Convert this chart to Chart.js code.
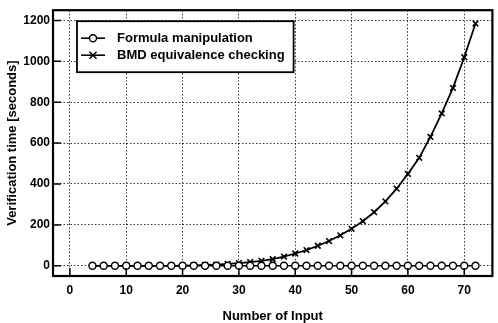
<!DOCTYPE html>
<html>
<head>
<meta charset="utf-8">
<script src="https://cdn.jsdelivr.net/npm/chart.js@4/dist/chart.umd.min.js"></script>
<style>
html,body{margin:0;padding:0;background:#fff;}
#c{display:block;}
</style>
</head>
<body>
<canvas id="c" width="498" height="323"></canvas>
<script>
// ---- data ----
const inputs = [4,6,8,10,12,14,16,18,20,22,24,26,28,30,32,34,36,38,40,42,44,46,48,50,52,54,56,58,60,62,64,66,68,70,72];
const formulaTime = [0,0,0,0,0,0,0,0,0,0,0,0,0,0,0,0,0,0,0,0,0,0,0,0,0,0,0,0,0,0,0,0,0,0,0];
const bmdTime = [0,0,0,0,0,0,0,0,1,2,4,6,9,13,18,24,32,45,60,77,98,121,149,181,218,262,315,377,449,528,630,745,870,1020,1185];
const seriesNames = ["Formula manipulation","BMD equivalence checking"];
const xTickValues = [0,10,20,30,40,50,60,70];
const yTickValues = [0,200,400,600,800,1000,1200];
const xTitle = "Number of Input";
const yTitle = "Verification time [seconds]";

const FONT = "'Liberation Sans', Arial, Helvetica, sans-serif";

const framePlugin = {
  id: 'frame',
  afterDatasetsDraw(chart) {
    const {ctx, chartArea: a, scales} = chart;
    ctx.save();
    ctx.strokeStyle = '#000';
    // inward ticks
    ctx.lineWidth = 1.5;
    ctx.beginPath();
    const tl = 8;
    scales.x.ticks.forEach(t => {
      const px = scales.x.getPixelForValue(t.value);
      ctx.moveTo(px, a.bottom); ctx.lineTo(px, a.bottom - tl);
    });
    scales.y.ticks.forEach(t => {
      const py = scales.y.getPixelForValue(t.value);
      ctx.moveTo(a.left, py); ctx.lineTo(a.left + tl, py);
    });
    ctx.stroke();
    // frame
    ctx.lineWidth = 2.2;
    ctx.strokeRect(a.left, a.top, a.right - a.left, a.bottom - a.top);
    ctx.restore();
  },
  afterDraw(chart) {
    const {ctx, chartArea: a} = chart;
    ctx.save();
    ctx.font = "bold 13px " + FONT;
    const ds = chart.data.datasets;
    let maxW = 0;
    ds.forEach(d => { maxW = Math.max(maxW, ctx.measureText(d.label).width); });
    const left = a.left + 24, top = a.top + 11;
    const w = 40 + maxW + 9, h = 51;
    ctx.fillStyle = '#fff';
    ctx.fillRect(left, top, w, h);
    ctx.strokeStyle = '#000';
    ctx.lineWidth = 1.8;
    ctx.strokeRect(left, top, w, h);
    ds.forEach((d, i) => {
      const y = top + 17 + i * 17;
      ctx.lineWidth = 1.6;
      ctx.beginPath();
      ctx.moveTo(left + 4, y); ctx.lineTo(left + 28, y);
      ctx.stroke();
      const mx = left + 16;
      if (d.pointStyle === 'circle') {
        ctx.beginPath();
        ctx.arc(mx, y, 3.5, 0, Math.PI * 2);
        ctx.fillStyle = '#fff';
        ctx.fill();
        ctx.lineWidth = 1.4;
        ctx.stroke();
      } else {
        const r = 3.5;
        ctx.lineWidth = 1.6;
        ctx.beginPath();
        ctx.moveTo(mx - r, y - r); ctx.lineTo(mx + r, y + r);
        ctx.moveTo(mx + r, y - r); ctx.lineTo(mx - r, y + r);
        ctx.stroke();
      }
      ctx.fillStyle = '#000';
      ctx.textBaseline = 'middle';
      ctx.textAlign = 'left';
      ctx.fillText(d.label, left + 40, y);
    });
    ctx.restore();
  }
};

new Chart(document.getElementById('c'), {
  type: 'line',
  data: {
    datasets: [
      {
        label: seriesNames[0],
        data: inputs.map((x, i) => ({x: x, y: formulaTime[i]})),
        borderColor: '#000',
        borderWidth: 1.6,
        pointStyle: 'circle',
        pointRadius: 3.5,
        pointBorderWidth: 1.4,
        pointBackgroundColor: '#fff',
        pointBorderColor: '#000',
        tension: 0,
        fill: false
      },
      {
        label: seriesNames[1],
        data: inputs.map((x, i) => ({x: x, y: bmdTime[i]})),
        borderColor: '#000',
        borderWidth: 1.8,
        pointStyle: 'crossRot',
        pointRadius: 4,
        pointBorderWidth: 1.6,
        pointBorderColor: '#000',
        pointBackgroundColor: '#000',
        tension: 0,
        fill: false
      }
    ]
  },
  options: {
    responsive: false,
    animation: false,
    events: [],
    layout: {padding: {top: 6, right: 1, left: 0, bottom: 0}},
    plugins: {legend: {display: false}, tooltip: {enabled: false}},
    scales: {
      x: {
        type: 'linear',
        min: -3, max: 75,
        afterBuildTicks: s => { s.ticks = xTickValues.map(v => ({value: v})); },
        afterFit: s => { s.height = 47; },
        grid: {drawTicks: false, color: 'rgba(0,0,0,0.8)', lineWidth: 1},
        border: {display: false, dash: [1.5, 2]},
        ticks: {color: '#000', padding: 7, maxRotation: 0, callback: v => String(v), font: {family: FONT, size: 12, weight: 'bold'}},
        title: {display: true, text: xTitle, color: '#000', padding: 0, font: {family: FONT, size: 13, weight: 'bold', lineHeight: 1}}
      },
      y: {
        type: 'linear',
        min: -50, max: 1250,
        afterBuildTicks: s => { s.ticks = yTickValues.map(v => ({value: v})); },
        afterFit: s => { s.width = 53; },
        grid: {drawTicks: false, color: 'rgba(0,0,0,0.8)', lineWidth: 1},
        border: {display: false, dash: [1.5, 2]},
        ticks: {color: '#000', padding: 3, callback: v => String(v), font: {family: FONT, size: 12, weight: 'bold'}},
        title: {display: true, text: yTitle, color: '#000', padding: {top: 5, bottom: 0}, font: {family: FONT, size: 13, weight: 'bold'}}
      }
    }
  },
  plugins: [framePlugin]
});
</script>
</body>
</html>
